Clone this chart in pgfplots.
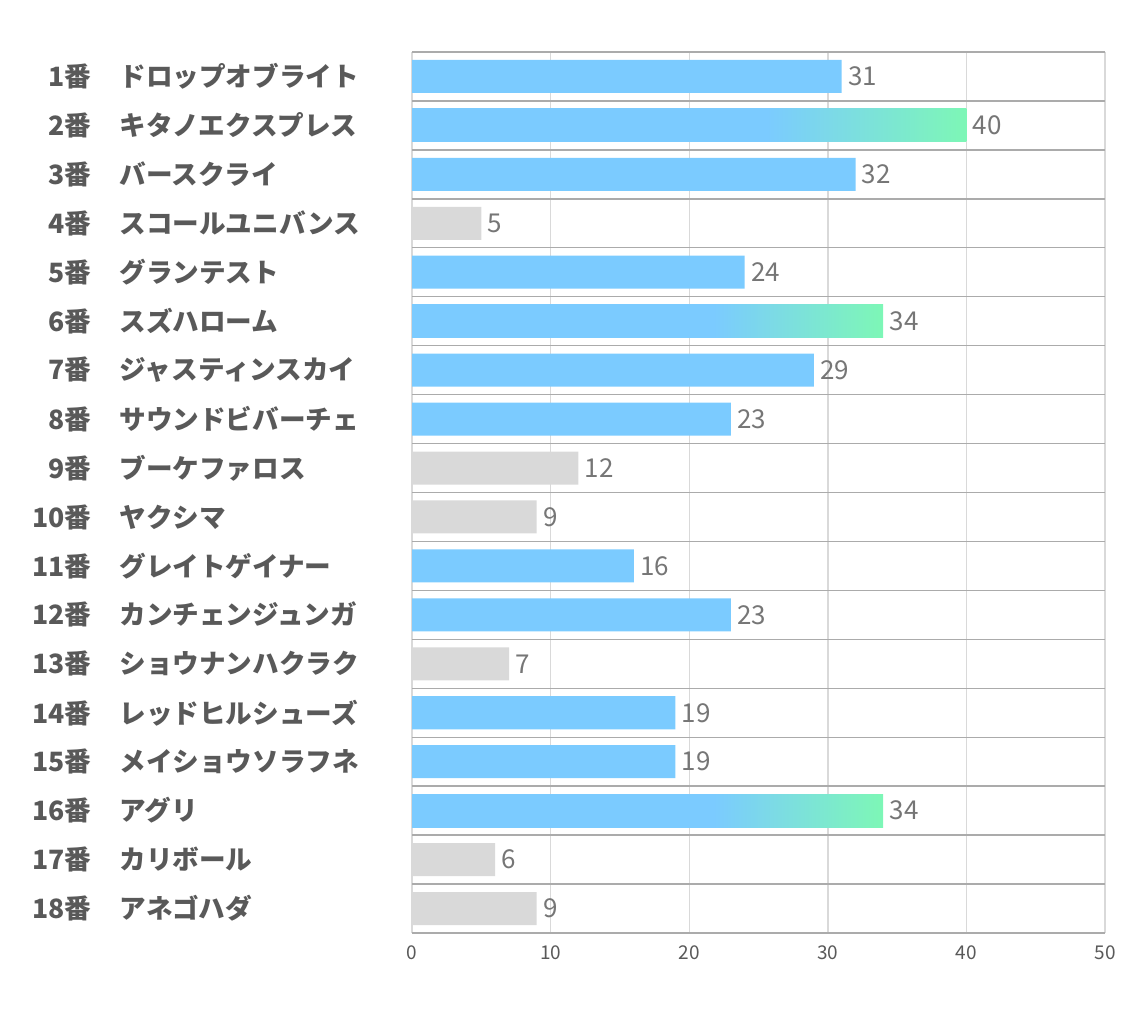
\documentclass[border=0pt]{standalone}
\usepackage{pgfplots}
\pgfplotsset{compat=1.18}
\usepackage{fontspec}
\setmainfont{Noto Sans CJK JP}

\definecolor{barblue}{HTML}{7BCBFF}
\definecolor{bargreen}{HTML}{7DF7B6}
\definecolor{bargray}{HTML}{D9D9D9}
\definecolor{lblgray}{HTML}{595959}
\definecolor{valgray}{HTML}{767676}
\definecolor{gridlight}{HTML}{D9D9D9}
\definecolor{griddark}{HTML}{ABABAB}

% blue for most of the bar, fading to green at the end
\pgfdeclarehorizontalshading{bluegreen}{100bp}{color(0bp)=(barblue); color(25bp)=(barblue); color(57bp)=(barblue); color(75bp)=(bargreen); color(100bp)=(bargreen)}

\newcommand{\lbl}[2]{\makebox[26pt][r]{#1番}\hspace{14pt}\makebox[125pt][l]{#2}}

\begin{document}
\begin{tikzpicture}
\useasboundingbox (0,0) rectangle (567pt,510pt);
\begin{axis}[
    at={(206pt,43.5pt)}, anchor=south west,
    scale only axis,
    width=346.5pt, height=440.5pt,
    xbar, bar width=16.5pt, bar shift=0pt,
    xmin=0, xmax=50, ymin=0.5, ymax=18.5,
    y dir=reverse,
    xtick={0,10,20,30,40,50},
    ytick={1,...,18},
    yticklabels={
        \lbl{1}{ドロップオブライト},
        \lbl{2}{キタノエクスプレス},
        \lbl{3}{バースクライ},
        \lbl{4}{スコールユニバンス},
        \lbl{5}{グランテスト},
        \lbl{6}{スズハローム},
        \lbl{7}{ジャスティンスカイ},
        \lbl{8}{サウンドビバーチェ},
        \lbl{9}{ブーケファロス},
        \lbl{10}{ヤクシマ},
        \lbl{11}{グレイトゲイナー},
        \lbl{12}{カンチェンジュンガ},
        \lbl{13}{ショウナンハクラク},
        \lbl{14}{レッドヒルシューズ},
        \lbl{15}{メイショウソラフネ},
        \lbl{16}{アグリ},
        \lbl{17}{カリボール},
        \lbl{18}{アネゴハダ}},
    minor ytick={0.5,1.5,2.5,3.5,4.5,5.5,6.5,7.5,8.5,9.5,10.5,11.5,12.5,13.5,14.5,15.5,16.5,17.5,18.5},
    xmajorgrids, yminorgrids,
    major grid style={draw=gridlight, line width=0.7pt},
    minor grid style={draw=griddark, line width=0.7pt},
    axis line style={draw=none},
    major tick length=0pt, minor tick length=0pt,
    yticklabel style={font=\fontsize{13.3}{15}\selectfont\bfseries, text=lblgray, inner sep=0pt, xshift=-21pt},
    xticklabel style={font=\fontsize{9.5}{11}\selectfont, text=lblgray, yshift=-3pt},
    /pgf/number format/assume math mode=true,
    point meta=x,
    nodes near coords,
    nodes near coords style={font=\fontsize{13}{15}\selectfont, text=valgray, inner sep=3pt},
]
\addplot[draw=none, fill=barblue] coordinates {
    (31,1) (32,3) (24,5) (29,7) (23,8) (16,11) (23,12) (19,14) (19,15)
};
\addplot[draw=none, fill=bargray] coordinates {
    (5,4) (12,9) (9,10) (7,13) (6,17) (9,18)
};
\addplot[draw=none, shading=bluegreen] coordinates {(40,2)};
\addplot[draw=none, shading=bluegreen] coordinates {(34,6)};
\addplot[draw=none, shading=bluegreen] coordinates {(34,16)};
\end{axis}
\end{tikzpicture}
\end{document}
